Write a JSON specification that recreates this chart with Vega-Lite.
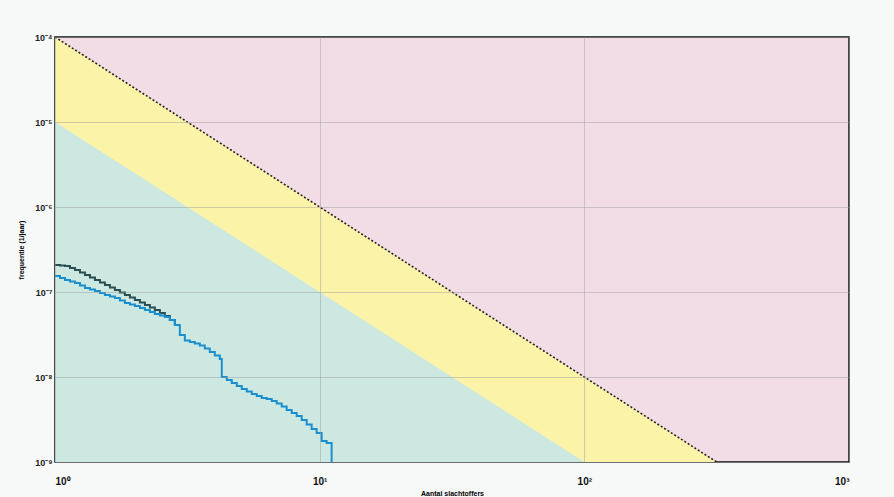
{
  "$schema": "https://vega.github.io/schema/vega-lite/v6.json",
  "width": 794,
  "height": 425,
  "autosize": {"type": "none"},
  "padding": {"left": 55, "top": 37, "right": 45, "bottom": 35},
  "background": "#f7f8f8",
  "config": {
    "view": {"fill": "#f2dce6", "stroke": "#111111", "strokeWidth": 1.5},
    "font": "Liberation Sans"
  },
  "datasets": {
    "limits": [
      {"N": 1, "F": 0.0001, "lijn": "boven"},
      {"N": 316.23, "F": 0.000000001, "lijn": "boven"},
      {"N": 1, "F": 0.00001, "lijn": "onder"},
      {"N": 100, "F": 0.000000001, "lijn": "onder"}
    ],
    "curves": [
      {"N": 1, "F": 2.078e-7, "reeks": "donker"},
      {"N": 1.0444, "F": 2.05e-7, "reeks": "donker"},
      {"N": 1.0908, "F": 2.022e-7, "reeks": "donker"},
      {"N": 1.1392, "F": 1.916e-7, "reeks": "donker"},
      {"N": 1.1898, "F": 1.815e-7, "reeks": "donker"},
      {"N": 1.2426, "F": 1.696e-7, "reeks": "donker"},
      {"N": 1.2978, "F": 1.585e-7, "reeks": "donker"},
      {"N": 1.3554, "F": 1.481e-7, "reeks": "donker"},
      {"N": 1.4156, "F": 1.384e-7, "reeks": "donker"},
      {"N": 1.4785, "F": 1.293e-7, "reeks": "donker"},
      {"N": 1.5441, "F": 1.209e-7, "reeks": "donker"},
      {"N": 1.6127, "F": 1.129e-7, "reeks": "donker"},
      {"N": 1.6843, "F": 1.056e-7, "reeks": "donker"},
      {"N": 1.7591, "F": 9.86e-8, "reeks": "donker"},
      {"N": 1.8372, "F": 9.22e-8, "reeks": "donker"},
      {"N": 1.9187, "F": 8.61e-8, "reeks": "donker"},
      {"N": 2.0039, "F": 8.05e-8, "reeks": "donker"},
      {"N": 2.0929, "F": 7.52e-8, "reeks": "donker"},
      {"N": 2.1858, "F": 7.03e-8, "reeks": "donker"},
      {"N": 2.2829, "F": 6.57e-8, "reeks": "donker"},
      {"N": 2.3843, "F": 6.14e-8, "reeks": "donker"},
      {"N": 2.4901, "F": 5.66e-8, "reeks": "donker"},
      {"N": 2.6007, "F": 5.22e-8, "reeks": "donker"},
      {"N": 2.7162, "F": 4.68e-8, "reeks": "donker"},
      {"N": 2.8368, "F": 4.09e-8, "reeks": "donker"},
      {"N": 1, "F": 1.542e-7, "reeks": "blauw"},
      {"N": 1.0444, "F": 1.461e-7, "reeks": "blauw"},
      {"N": 1.0908, "F": 1.384e-7, "reeks": "blauw"},
      {"N": 1.1392, "F": 1.329e-7, "reeks": "blauw"},
      {"N": 1.1898, "F": 1.276e-7, "reeks": "blauw"},
      {"N": 1.2426, "F": 1.192e-7, "reeks": "blauw"},
      {"N": 1.2978, "F": 1.114e-7, "reeks": "blauw"},
      {"N": 1.3554, "F": 1.07e-7, "reeks": "blauw"},
      {"N": 1.4156, "F": 1.027e-7, "reeks": "blauw"},
      {"N": 1.4785, "F": 9.73e-8, "reeks": "blauw"},
      {"N": 1.5441, "F": 9.22e-8, "reeks": "blauw"},
      {"N": 1.6127, "F": 8.85e-8, "reeks": "blauw"},
      {"N": 1.6843, "F": 8.5e-8, "reeks": "blauw"},
      {"N": 1.7591, "F": 7.94e-8, "reeks": "blauw"},
      {"N": 1.8372, "F": 7.42e-8, "reeks": "blauw"},
      {"N": 1.9187, "F": 7.12e-8, "reeks": "blauw"},
      {"N": 2.0039, "F": 6.84e-8, "reeks": "blauw"},
      {"N": 2.0929, "F": 6.48e-8, "reeks": "blauw"},
      {"N": 2.1858, "F": 6.14e-8, "reeks": "blauw"},
      {"N": 2.2829, "F": 5.82e-8, "reeks": "blauw"},
      {"N": 2.3843, "F": 5.51e-8, "reeks": "blauw"},
      {"N": 2.4901, "F": 5.29e-8, "reeks": "blauw"},
      {"N": 2.6007, "F": 5.08e-8, "reeks": "blauw"},
      {"N": 2.7162, "F": 4.68e-8, "reeks": "blauw"},
      {"N": 2.8368, "F": 4.09e-8, "reeks": "blauw"},
      {"N": 2.9627, "F": 3.12e-8, "reeks": "blauw"},
      {"N": 3.0943, "F": 2.69e-8, "reeks": "blauw"},
      {"N": 3.2317, "F": 2.58e-8, "reeks": "blauw"},
      {"N": 3.3751, "F": 2.48e-8, "reeks": "blauw"},
      {"N": 3.525, "F": 2.35e-8, "reeks": "blauw"},
      {"N": 3.6815, "F": 2.16e-8, "reeks": "blauw"},
      {"N": 3.845, "F": 1.97e-8, "reeks": "blauw"},
      {"N": 4.0157, "F": 1.79e-8, "reeks": "blauw"},
      {"N": 4.194, "F": 1.63e-8, "reeks": "blauw"},
      {"N": 4.268, "F": 1.0e-8, "reeks": "blauw"},
      {"N": 4.457, "F": 9.22e-9, "reeks": "blauw"},
      {"N": 4.655, "F": 8.5e-9, "reeks": "blauw"},
      {"N": 4.862, "F": 7.83e-9, "reeks": "blauw"},
      {"N": 5.078, "F": 7.22e-9, "reeks": "blauw"},
      {"N": 5.303, "F": 6.75e-9, "reeks": "blauw"},
      {"N": 5.538, "F": 6.31e-9, "reeks": "blauw"},
      {"N": 5.784, "F": 5.98e-9, "reeks": "blauw"},
      {"N": 6.041, "F": 5.66e-9, "reeks": "blauw"},
      {"N": 6.309, "F": 5.51e-9, "reeks": "blauw"},
      {"N": 6.589, "F": 5.22e-9, "reeks": "blauw"},
      {"N": 6.882, "F": 4.88e-9, "reeks": "blauw"},
      {"N": 7.187, "F": 4.5e-9, "reeks": "blauw"},
      {"N": 7.506, "F": 4.09e-9, "reeks": "blauw"},
      {"N": 7.839, "F": 3.77e-9, "reeks": "blauw"},
      {"N": 8.187, "F": 3.48e-9, "reeks": "blauw"},
      {"N": 8.551, "F": 3.12e-9, "reeks": "blauw"},
      {"N": 8.93, "F": 2.76e-9, "reeks": "blauw"},
      {"N": 9.327, "F": 2.44e-9, "reeks": "blauw"},
      {"N": 9.741, "F": 2.19e-9, "reeks": "blauw"},
      {"N": 10.173, "F": 1.77e-9, "reeks": "blauw"},
      {"N": 10.625, "F": 1.67e-9, "reeks": "blauw"},
      {"N": 11.097, "F": 1.0e-9, "reeks": "blauw"}
    ]
  },
  "encoding": {
    "x": {
      "field": "N",
      "type": "quantitative",
      "scale": {"type": "log", "domain": [1, 1000], "nice": false},
      "axis": {
        "title": "Aantal slachtoffers",
        "values": [1, 10, 100, 1000],
        "labelExpr": "'10' + ['⁰','¹','²','³'][round(log(datum.value)/LN10)]",
        "ticks": false,
        "domain": false,
        "labelPadding": 14,
        "labelFontSize": 10,
        "labelFontWeight": "bold",
        "labelColor": "#111111",
        "titleFontSize": 7,
        "titleFontWeight": "bold",
        "titlePadding": 3,
        "gridColor": "#9a9a9a",
        "gridOpacity": 0.45,
        "zindex": 1
      }
    },
    "y": {
      "field": "F",
      "type": "quantitative",
      "scale": {"type": "log", "domain": [1e-9, 0.0001], "nice": false},
      "axis": {
        "title": "frequentie (1/jaar)",
        "values": [1e-9, 1e-8, 1e-7, 1e-6, 1e-5, 0.0001],
        "labelExpr": "'10⁻' + ['⁰','¹','²','³','⁴','⁵','⁶','⁷','⁸','⁹'][round(-log(datum.value)/LN10)]",
        "ticks": false,
        "domain": false,
        "labelPadding": 3,
        "labelFontSize": 9,
        "labelFontWeight": "bold",
        "labelColor": "#222222",
        "titleFontSize": 7,
        "titleFontWeight": "bold",
        "titlePadding": 10,
        "gridColor": "#9a9a9a",
        "gridOpacity": 0.45,
        "zindex": 1
      }
    }
  },
  "layer": [
    {
      "data": {"name": "limits"},
      "transform": [{"filter": "datum.lijn == 'boven'"}],
      "mark": {"type": "area", "color": "#fbf3a8", "clip": true},
      "encoding": {"y": {"field": "F", "type": "quantitative", "stack": null}, "y2": {"datum": 1e-9}}
    },
    {
      "data": {"name": "limits"},
      "transform": [{"filter": "datum.lijn == 'onder'"}],
      "mark": {"type": "area", "color": "#cde8e0", "clip": true},
      "encoding": {"y": {"field": "F", "type": "quantitative", "stack": null}, "y2": {"datum": 1e-9}}
    },
    {
      "data": {"name": "limits"},
      "transform": [{"filter": "datum.lijn == 'boven'"}],
      "mark": {"type": "line", "color": "#222222", "strokeWidth": 1.6, "strokeDash": [2, 2], "clip": true},
      "encoding": {}
    },
    {
      "data": {"name": "curves"},
      "transform": [{"filter": "datum.reeks == 'donker'"}],
      "mark": {"type": "line", "color": "#2b4d55", "strokeWidth": 2, "interpolate": "step-after", "clip": true},
      "encoding": {}
    },
    {
      "data": {"name": "curves"},
      "transform": [{"filter": "datum.reeks == 'blauw'"}],
      "mark": {"type": "line", "color": "#1a8fd0", "strokeWidth": 2, "interpolate": "step-after", "clip": true},
      "encoding": {}
    }
  ]
}
